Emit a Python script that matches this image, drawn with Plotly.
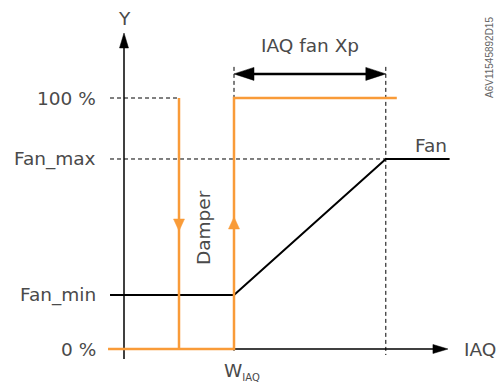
import plotly.graph_objects as go

# ---------------- data (chart units: x = IAQ units, y = %) ----------------
level_labels = ["0 %", "Fan_min", "Fan_max", "100 %"]
level_values = [0, 21.5, 75.7, 100]

w_iaq = 100            # start of the IAQ fan proportional band
xp_end = 238           # end of the IAQ fan Xp band
damper_close_x = 50    # damper closes again (hysteresis)
damper_open_end = 248  # orange 100 % line end

fan_x = [-12.7, w_iaq, xp_end, 296]
fan_y = [21.5, 21.5, 75.7, 75.7]

damper_open_x = [-14.5, w_iaq, w_iaq, damper_open_end]
damper_open_y = [0, 0, 100, 100]
damper_close_xs = [damper_close_x, damper_close_x]
damper_close_ys = [100, 0]

y_axis_top = 125.9
y_axis_bottom = -4.0
x_axis_end = 294.5
dash_top = 112.4
xp_arrow_y = 109.6
label_x = -23.6
label_left = -12.7
damper_down_tip = 47.0
damper_up_tip = 52.6

# ---------------- scales ----------------
W, H = 496, 385
SX, SY = 1.1, 2.51          # px per data unit
X0, Y0 = 124, 349           # pixel position of data origin
x_range = [-X0 / SX, (W - X0) / SX]
y_range = [-(H - Y0) / SY, Y0 / SY]

ORANGE = "#F99B38"
TEXT = "#4a4a4a"
FONT = "DejaVu Sans"

fig = go.Figure()


def line(xs, ys, color="black", width=1.5, dash=None):
    fig.add_trace(go.Scatter(x=xs, y=ys, mode="lines", hoverinfo="skip",
                             line=dict(color=color, width=width, dash=dash)))


def head(tx, ty, direction, length, width, color="black"):
    L_x, L_y = length / SX, length / SY
    w_x, w_y = width / 2 / SX, width / 2 / SY
    if direction == "up":
        xs = [tx, tx - w_x, tx + w_x, tx]; ys = [ty, ty - L_y, ty - L_y, ty]
    elif direction == "down":
        xs = [tx, tx - w_x, tx + w_x, tx]; ys = [ty, ty + L_y, ty + L_y, ty]
    elif direction == "right":
        xs = [tx, tx - L_x, tx - L_x, tx]; ys = [ty, ty - w_y, ty + w_y, ty]
    else:
        xs = [tx, tx + L_x, tx + L_x, tx]; ys = [ty, ty - w_y, ty + w_y, ty]
    fig.add_trace(go.Scatter(x=xs, y=ys, mode="lines", fill="toself",
                             fillcolor=color, hoverinfo="skip",
                             line=dict(color=color, width=0.5)))


DASH = "4px,3px"
# dashed guides
line([label_left, damper_close_x], [100, 100], width=1, dash=DASH)
line([label_left, xp_end], [75.7, 75.7], width=1, dash=DASH)
line([w_iaq, w_iaq], [dash_top, -1.6], width=1, dash=DASH)
line([xp_end, xp_end], [dash_top, -2.4], width=1, dash=DASH)

# axes
line([0, 0], [y_axis_bottom, y_axis_top - 10 / SY], width=1.5)
head(0, y_axis_top, "up", 15, 9)
line([0, x_axis_end - 10 / SX], [0, 0], width=1.5)
head(x_axis_end, 0, "right", 15, 9)

# Xp double arrow
line([w_iaq + 15 / SX, xp_end - 15 / SX], [xp_arrow_y, xp_arrow_y], width=2.5)
head(w_iaq, xp_arrow_y, "left", 20, 13)
head(xp_end, xp_arrow_y, "right", 20, 13)

# fan curve
line(fan_x, fan_y, width=2)

# damper
line(damper_open_x, damper_open_y, color=ORANGE, width=2.5)
line(damper_close_xs, damper_close_ys, color=ORANGE, width=2.5)
head(damper_close_x, damper_down_tip, "down", 12, 11, ORANGE)
head(w_iaq, damper_up_tip, "up", 12, 11, ORANGE)

# texts
ann = []
for lab, val in zip(level_labels, level_values):
    ann.append(dict(x=label_x, y=val, text=lab, xanchor="right", yanchor="middle",
                    showarrow=False, font=dict(family=FONT, size=18.5, color=TEXT)))
ann.append(dict(x=0, y=(Y0 - 18) / SY, text="Y", showarrow=False,
                font=dict(family=FONT, size=18.5, color=TEXT)))
ann.append(dict(x=(462 - X0) / SX, y=0, text="IAQ", xanchor="left", showarrow=False,
                font=dict(family=FONT, size=18.5, color=TEXT)))
ann.append(dict(x=(w_iaq + xp_end) / 2, y=(Y0 - 45) / SY, text="IAQ fan Xp",
                showarrow=False, font=dict(family=FONT, size=18.5, color=TEXT)))
ann.append(dict(x=(413 - X0) / SX, y=(Y0 - 145) / SY, text="Fan", xanchor="left",
                showarrow=False, font=dict(family=FONT, size=18.5, color=TEXT)))
ann.append(dict(x=(203 - X0) / SX, y=(Y0 - 228) / SY, text="Damper", textangle=-90,
                showarrow=False, font=dict(family=FONT, size=18.5, color=TEXT)))
ann.append(dict(x=(222 - X0) / SX, y=(Y0 - 371) / SY, xanchor="left",
                text="W<sub><span style='font-size:10px'>IAQ</span></sub>",
                showarrow=False, font=dict(family=FONT, size=18.5, color=TEXT)))
ann.append(dict(x=(489 - X0) / SX, y=(Y0 - 58) / SY, text="A6V11545892D15",
                textangle=-90, showarrow=False,
                font=dict(family="Liberation Sans", size=10, color="#666666")))

fig.update_layout(
    width=W, height=H, margin=dict(l=0, r=0, t=0, b=0),
    paper_bgcolor="white", plot_bgcolor="white", showlegend=False,
    xaxis=dict(range=x_range, visible=False, fixedrange=True),
    yaxis=dict(range=y_range, visible=False, fixedrange=True),
    annotations=ann,
)
fig.write_html("out.html", config={"displayModeBar": False},
               post_script="document.body.style.margin='0';document.body.style.overflow='hidden';")
